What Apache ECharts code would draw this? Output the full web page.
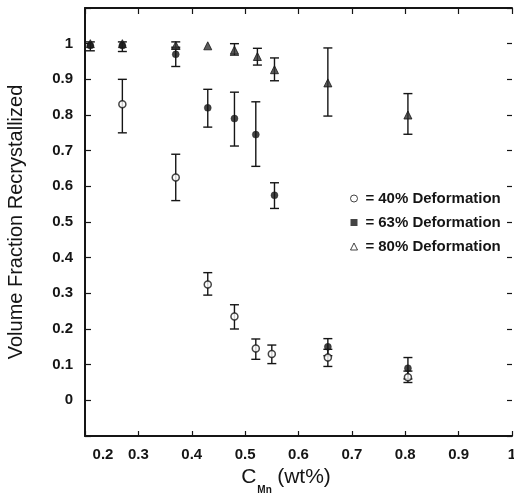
<!DOCTYPE html>
<html><head><meta charset="utf-8">
<script src="https://cdn.jsdelivr.net/npm/echarts@6/dist/echarts.min.js"></script>
<style>html,body{margin:0;padding:0;background:#fff}#c{width:514px;height:494px}</style>
</head><body><div id="c"></div>
<script>
// 40% Deformation
const cMn40 = [0.27, 0.37, 0.43, 0.48, 0.52, 0.55, 0.655, 0.805];
const frac40 = [0.83, 0.625, 0.325, 0.235, 0.145, 0.13, 0.12, 0.065];
const lo40 = [0.75, 0.56, 0.295, 0.2, 0.115, 0.103, 0.095, 0.05];
const hi40 = [0.90, 0.69, 0.358, 0.268, 0.172, 0.155, 0.143, 0.082];
// 63% Deformation
const cMn63 = [0.21, 0.27, 0.37, 0.43, 0.48, 0.52, 0.555, 0.655, 0.805];
const frac63 = [0.995, 0.995, 0.97, 0.82, 0.79, 0.745, 0.575, 0.15, 0.09];
const lo63 = [0.98, 0.978, 0.936, 0.766, 0.713, 0.656, 0.538, 0.125, 0.06];
const hi63 = [1.005, 1.005, 0.99, 0.872, 0.864, 0.837, 0.61, 0.173, 0.12];
// 80% Deformation
const cMn80 = [0.21, 0.27, 0.37, 0.43, 0.48, 0.523, 0.555, 0.655, 0.805];
const frac80 = [1.0, 1.0, 0.995, 0.994, 0.982, 0.964, 0.927, 0.89, 0.80];
const lo80 = [1.0, 1.0, 0.985, 0.994, 0.968, 0.94, 0.896, 0.797, 0.746];
const hi80 = [1.0, 1.0, 1.005, 0.994, 1.0, 0.987, 0.96, 0.988, 0.86];

const seriesNames = ['40% Deformation', '63% Deformation', '80% Deformation'];
const xTickLabels = ['0.2', '0.3', '0.4', '0.5', '0.6', '0.7', '0.8', '0.9', '1'];
const yTickLabels = ['0', '0.1', '0.2', '0.3', '0.4', '0.5', '0.6', '0.7', '0.8', '0.9', '1'];

const INK = '#151515';
const FONT = '"Liberation Sans", Arial, Helvetica, sans-serif';

function zip(a, b) { return a.map((v, i) => [v, b[i]]); }
function zip3(a, b, c) { return a.map((v, i) => [v, b[i], c[i]]); }

function errRender(params, api) {
  const x = api.value(0), lo = api.value(1), hi = api.value(2);
  if (hi - lo < 1e-6) return null;
  const pLo = api.coord([x, lo]);
  const pHi = api.coord([x, hi]);
  const w = 4.5;
  const st = { stroke: INK, lineWidth: 1.4 };
  return {
    type: 'group',
    children: [
      { type: 'line', shape: { x1: pLo[0], y1: pLo[1], x2: pHi[0], y2: pHi[1] }, style: st },
      { type: 'line', shape: { x1: pLo[0] - w, y1: pLo[1], x2: pLo[0] + w, y2: pLo[1] }, style: st },
      { type: 'line', shape: { x1: pHi[0] - w, y1: pHi[1], x2: pHi[0] + w, y2: pHi[1] }, style: st }
    ]
  };
}

function fmtX(v) {
  const i = Math.round((v - 0.2) / 0.1);
  const t = xTickLabels[i];
  if (t === undefined) return '';
  return i === 0 ? '{f|' + t + '}' : t;
}
function fmtY(v) {
  const i = Math.round(v / 0.1);
  if (v < -0.05 || v > 1.05) return '';
  return yTickLabels[i] || '';
}

const labelStyle = { color: INK, fontSize: 15, fontWeight: 'bold', fontFamily: FONT };

const chart = echarts.init(document.getElementById('c'), null, { renderer: 'canvas' });
chart.setOption({
  animation: false,
  backgroundColor: '#fff',
  textStyle: { fontFamily: FONT },
  grid: { left: 85, right: 2, top: 8, bottom: 58, containLabel: false, outerBoundsMode: 'none' },
  legend: {
    orient: 'vertical', left: 345, top: 186, itemGap: 9, itemWidth: 7, itemHeight: 7,
    textStyle: { color: INK, fontSize: 15, fontWeight: 'bold', fontFamily: FONT,
      rich: { e: { fontSize: 15, fontWeight: 'bold', color: INK, fontFamily: FONT, padding: [0, 4, 0, 3] } } },
    formatter: n => '{e|=}' + n,
    data: [
      { name: seriesNames[0], icon: 'circle', itemStyle: { color: '#fff', borderColor: INK, borderWidth: 1 } },
      { name: seriesNames[1], icon: 'rect', itemStyle: { color: INK, borderWidth: 0 } },
      { name: seriesNames[2], icon: 'triangle', itemStyle: { color: '#fff', borderColor: INK, borderWidth: 1 } }
    ]
  },
  xAxis: [{
    type: 'value', min: 0.2, max: 1.0, interval: 0.1, position: 'bottom',
    name: '{c|C}{s|Mn} {w|(wt%)}', nameLocation: 'middle', nameGap: 16,
    nameTextStyle: {
      padding: [0, 25, 0, 0],
      rich: {
        c: { fontSize: 21, color: INK, fontFamily: FONT, lineHeight: 28, verticalAlign: 'top' },
        s: { fontSize: 10, fontWeight: 'bold', color: INK, fontFamily: FONT, lineHeight: 28, verticalAlign: 'bottom', padding: [14, 2, 0, 1] },
        w: { fontSize: 21, color: INK, fontFamily: FONT, lineHeight: 28, verticalAlign: 'top' }
      }
    },
    axisLine: { onZero: false, lineStyle: { color: INK, width: 2 } },
    axisTick: { inside: true, length: 5, lineStyle: { color: INK, width: 1.2 } },
    splitLine: { show: false },
    axisLabel: Object.assign({ margin: 11, formatter: fmtX, showMinLabel: true, showMaxLabel: true,
      rich: { f: { fontSize: 15, fontWeight: 'bold', color: INK, fontFamily: FONT, padding: [0, 0, 0, 36] } } }, labelStyle)
  }, {
    type: 'value', min: 0.2, max: 1.0, interval: 0.1, position: 'top',
    axisLine: { onZero: false, lineStyle: { color: INK, width: 2 } },
    axisTick: { inside: true, length: 6, lineStyle: { color: INK, width: 1.2 } },
    axisLabel: { show: false }, splitLine: { show: false }
  }],
  yAxis: [{
    type: 'value', min: -0.1, max: 1.1, interval: 0.1, position: 'left',
    name: 'Volume Fraction Recrystallized', nameLocation: 'middle', nameGap: 59,
    nameTextStyle: { fontSize: 20, color: INK, fontFamily: FONT },
    axisLine: { onZero: false, lineStyle: { color: INK, width: 2 } },
    axisTick: { inside: true, length: 6, lineStyle: { color: INK, width: 1.2 } },
    splitLine: { show: false },
    axisLabel: Object.assign({ margin: 12, formatter: fmtY }, labelStyle)
  }, {
    type: 'value', min: -0.1, max: 1.1, interval: 0.1, position: 'right',
    axisLine: { show: false, onZero: false },
    axisTick: { show: true, inside: true, length: 5, lineStyle: { color: INK, width: 1.2 } },
    axisLabel: { show: false }, splitLine: { show: false }
  }],
  series: [
    { name: 'err40', type: 'custom', renderItem: errRender, data: zip3(cMn40, lo40, hi40), encode: { x: 0, y: [1, 2] }, z: 2 },
    { name: 'err63', type: 'custom', renderItem: errRender, data: zip3(cMn63, lo63, hi63), encode: { x: 0, y: [1, 2] }, z: 2 },
    { name: 'err80', type: 'custom', renderItem: errRender, data: zip3(cMn80, lo80, hi80), encode: { x: 0, y: [1, 2] }, z: 2 },
    { name: seriesNames[2], type: 'scatter', symbol: 'triangle', symbolSize: 8, data: zip(cMn80, frac80),
      itemStyle: { color: '#333', borderColor: INK, borderWidth: 1 }, z: 3 },
    { name: seriesNames[1], type: 'scatter', symbol: 'circle', symbolSize: 7, data: zip(cMn63, frac63),
      itemStyle: { color: INK, borderColor: INK, borderWidth: 0.5 }, z: 4 },
    { name: seriesNames[0], type: 'scatter', symbol: 'circle', symbolSize: 7, data: zip(cMn40, frac40),
      itemStyle: { color: '#fff', borderColor: INK, borderWidth: 1.5 }, z: 5 }
  ]
});
</script>
</body></html>
